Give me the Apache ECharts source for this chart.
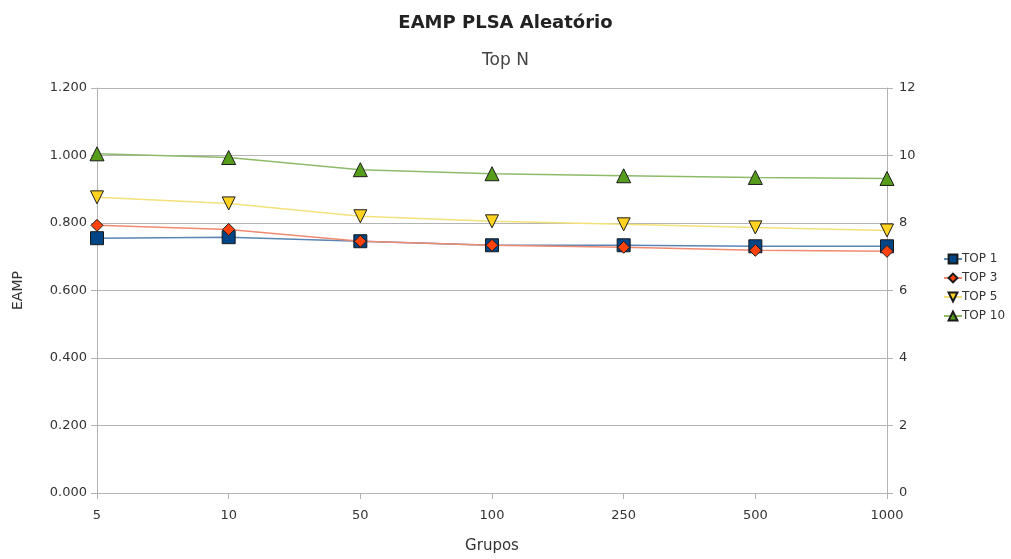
<!DOCTYPE html>
<html>
<head>
<meta charset="utf-8">
<script src="https://cdn.jsdelivr.net/npm/echarts@6/dist/echarts.min.js"></script>
<style>html,body{margin:0;padding:0;background:#fff}#chart{width:1011px;height:559px}</style>
</head>
<body>
<div id="chart"></div>
<script>
var categories = ['5', '10', '50', '100', '250', '500', '1000'];
var top1 = [0.755, 0.758, 0.746, 0.734, 0.734, 0.731, 0.731];
var top3 = [0.793, 0.781, 0.746, 0.734, 0.728, 0.719, 0.716];
var top5 = [0.876, 0.858, 0.820, 0.805, 0.796, 0.787, 0.778];
var top10 = [1.005, 0.994, 0.958, 0.946, 0.940, 0.935, 0.932];

var fontName = 'DejaVu Sans';
var axisGray = '#b3b3b3';
var chart = echarts.init(document.getElementById('chart'), null, {renderer: 'canvas'});

function mkSeries(name, data, symbol, size, fill, line) {
    return {
        name: name,
        type: 'line',
        data: data,
        symbol: symbol,
        symbolSize: size,
        showAllSymbol: true,
        itemStyle: {color: fill, borderColor: '#1a1a1a', borderWidth: 1},
        lineStyle: {color: line, width: 1.5},
        emphasis: {disabled: true}
    };
}

var option = {
    animation: false,
    textStyle: {fontFamily: fontName},
    title: [{
        text: 'EAMP PLSA Aleatório',
        left: 'center', top: 9,
        textStyle: {fontSize: 18, fontWeight: 'bold', color: '#222', fontFamily: fontName}
    }, {
        text: 'Top N',
        left: 'center', top: 47,
        textStyle: {fontSize: 17, fontWeight: 'normal', color: '#444', fontFamily: fontName}
    }],
    legend: {
        orient: 'vertical',
        left: 938, top: 248,
        itemGap: 7,
        itemWidth: 18, itemHeight: 11,
        textStyle: {fontSize: 12, color: '#333', fontFamily: fontName, padding: [0, 0, 0, -5]},
        data: ['TOP 1', 'TOP 3', 'TOP 5', 'TOP 10']
    },
    grid: {left: 97, right: 124, top: 88, bottom: 64},
    xAxis: {
        type: 'category',
        data: categories,
        boundaryGap: false,
        name: 'Grupos',
        nameLocation: 'middle',
        nameGap: 46,
        nameTextStyle: {fontSize: 15, color: '#333', fontFamily: fontName},
        axisLine: {lineStyle: {color: axisGray}},
        axisTick: {show: true, length: 6, lineStyle: {color: axisGray}},
        axisLabel: {fontSize: 13, color: '#333', margin: 16},
        splitLine: {show: false}
    },
    yAxis: [{
        type: 'value',
        min: 0, max: 1.2, interval: 0.2,
        name: 'EAMP',
        nameLocation: 'middle',
        nameGap: 72,
        nameRotate: 90,
        nameTextStyle: {fontSize: 14, color: '#333', fontFamily: fontName},
        axisLine: {show: true, lineStyle: {color: axisGray}},
        axisTick: {show: true, length: 6, lineStyle: {color: axisGray}},
        axisLabel: {fontSize: 13, color: '#333', margin: 10, formatter: function (v) { return v.toFixed(3); }},
        splitLine: {show: true, lineStyle: {color: axisGray}}
    }, {
        type: 'value',
        min: 0, max: 12, interval: 2,
        position: 'right',
        axisLine: {show: true, lineStyle: {color: axisGray}},
        axisTick: {show: true, length: 6, lineStyle: {color: axisGray}},
        axisLabel: {fontSize: 13, color: '#333', margin: 12},
        splitLine: {show: false}
    }],
    series: [
        mkSeries('TOP 1', top1, 'rect', 13, '#004586', '#5a85b5'),
        mkSeries('TOP 3', top3, 'diamond', 12, '#ff420e', '#f08a70'),
        mkSeries('TOP 5', top5, 'path://M0,0 L10,0 L5,10 Z', 13, '#ffd320', '#f3e27a'),
        mkSeries('TOP 10', top10, 'triangle', 14, '#579d1c', '#8dbb6a')
    ]
};
chart.setOption(option);
</script>
</body>
</html>
